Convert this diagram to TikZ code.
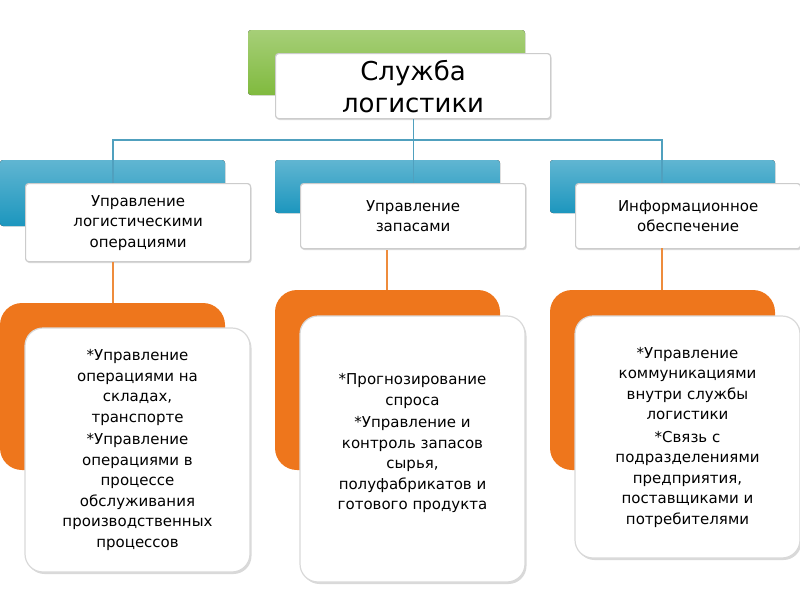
\documentclass[tikz,border=0pt]{standalone}
\usepackage{fontspec}
\setmainfont{DejaVu Sans}
\usetikzlibrary{shadows}
\definecolor{topgreen}{RGB}{128,186,62}
\definecolor{headblue}{RGB}{28,150,190}
\definecolor{bodyorange}{RGB}{238,118,28}
\definecolor{linkblue}{RGB}{80,160,190}
\definecolor{linkorange}{RGB}{238,140,60}
\tikzset{
  backbox/.style={rounded corners=3pt, inner sep=0pt, top color=#1!70, bottom color=#1},
  frontbox/.style={draw=gray!40, fill=white, rounded corners=3pt, line width=1.2pt,
    drop shadow={shadow xshift=1pt, shadow yshift=-1.5pt, opacity=0.3},
    align=center, inner sep=0pt},
  bodyback/.style={fill=bodyorange, rounded corners=22pt},
  bodyfront/.style={draw=gray!30, fill=white, rounded corners=18pt, line width=1.2pt,
    drop shadow={shadow xshift=1.5pt, shadow yshift=-2pt, opacity=0.3}},
  txt/.style={align=center, font=\fontsize{15}{20.5}\selectfont}
}
\begin{document}
\begin{tikzpicture}[x=1pt,y=-1pt]
  \useasboundingbox (0,0) rectangle (800,600);
  % Top box
  \fill[backbox=topgreen] (248,30) rectangle (525,95);
  \node[frontbox, minimum width=275pt, minimum height=65pt, anchor=north west,
    font=\fontsize{26}{32}\selectfont] (top) at (275,53) {Служба\\логистики};

  % Heads
  \foreach \x/\h/\n/\t in {0/78/l/{Управление\\логистическими\\операциями},
                          275/65/m/{Управление\\запасами},
                          550/65/r/{Информационное\\обеспечение}} {
    \fill[backbox=headblue] (\x,160) rectangle ++(225,\h-12);
    \node[frontbox, txt, minimum width=225pt, minimum height=\h pt, anchor=north west]
      (h\n) at (\x+25,183) {\t};
  }

  % Connectors from the top box
  \coordinate (bus) at (top.south |- 0,140);
  \draw[linkblue, line width=1.2pt] (top.south) -- (bus);
  \draw[linkblue, line width=1.2pt] (hl.north -| 113,0) |- (bus) -| (hr.north -| 662,0);
  \draw[linkblue, line width=1.2pt] (bus -| hm.north) -- (hm.north);

  % Bodies
  \fill[bodyback] (0,303) rectangle (225,470);
  \fill[bodyback] (275,290) rectangle (500,470);
  \fill[bodyback] (550,290) rectangle (775,470);
  \draw[bodyfront] (25,328) rectangle (250,572);
  \draw[bodyfront] (300,316) rectangle (525,582);
  \draw[bodyfront] (575,316) rectangle (800,558);
  \node[txt] (bl) at (137.5,450) {*Управление\\операциями на\\складах,\\транспорте\\[2pt]
    *Управление\\операциями в\\процессе\\обслуживания\\производственных\\процессов};
  \node[txt] (bm) at (412.5,443) {*Прогнозирование\\спроса\\[2pt]*Управление и\\контроль запасов\\сырья,\\полуфабрикатов и\\готового продукта};
  \node[txt] (br) at (687.5,437) {*Управление\\коммуникациями\\внутри службы\\логистики\\[2pt]
    *Связь с\\подразделениями\\предприятия,\\поставщиками и\\потребителями};

  % Connectors to the bodies
  \draw[linkorange, line width=1.2pt] (113,262) -- (113,303);
  \draw[linkorange, line width=1.2pt] (387,250) -- (387,290);
  \draw[linkorange, line width=1.2pt] (662,248) -- (662,290);
\end{tikzpicture}
\end{document}
